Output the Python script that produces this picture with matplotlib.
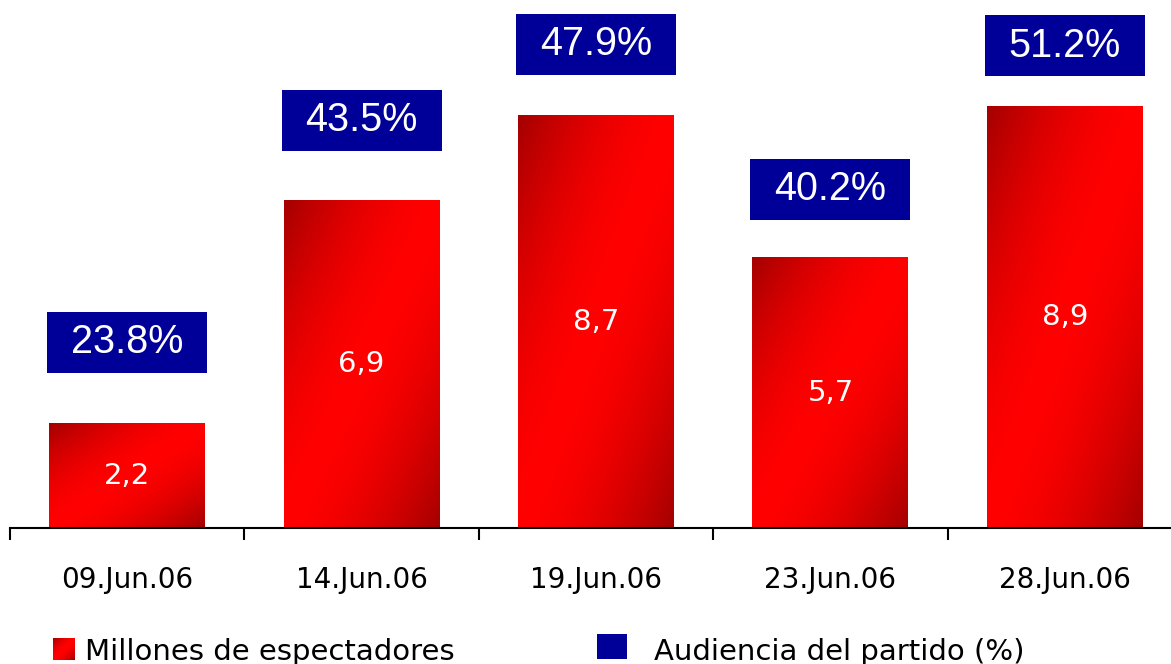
import numpy as np
import matplotlib
matplotlib.use('Agg')
import matplotlib.pyplot as plt
from matplotlib.patches import Rectangle

# ---------------- data ----------------
categories = ['09.Jun.06', '14.Jun.06', '19.Jun.06', '23.Jun.06', '28.Jun.06']
viewers = [2.2, 6.9, 8.7, 5.7, 8.9]          # Millones de espectadores
share = [23.8, 43.5, 47.9, 40.2, 51.2]       # Audiencia del partido (%)
legend_labels = ['Millones de espectadores', 'Audiencia del partido (%)']

# ---------------- layout / style ----------------
W, H, DPI = 1171, 664, 100
box_gap_px = [51, 50, 41, 38, 30]   # gap between bar top and label box
BLUE = '#000099'
BRIGHT = np.array([1.0, 0.0, 0.0])
DARK = np.array([0.64, 0.0, 0.0])


def gradient(n=200):
    xs = np.linspace(0, 1, n)
    X, Y = np.meshgrid(xs, xs)
    d = np.abs(X - Y) ** 1.7
    return BRIGHT[None, None, :] * (1 - d[..., None]) + DARK[None, None, :] * d[..., None]


grad = gradient()

fig = plt.figure(figsize=(W / DPI, H / DPI), dpi=DPI)
ax = fig.add_axes([10 / W, 136 / H, 1172 / W, 528 / H])

x = np.arange(len(categories))
bars = ax.bar(x, viewers, width=0.665, color='none', edgecolor='none')

ymax = 528 / 47.4
px_per_unit = 528 / ymax
px_per_cat = 1172 / len(categories)

for b, v, s, gap in zip(bars, viewers, share, box_gap_px):
    x0, w, h = b.get_x(), b.get_width(), b.get_height()
    ax.imshow(grad, extent=(x0, x0 + w, 0, h), origin='lower', aspect='auto',
              zorder=2, interpolation='bilinear')
    ax.text(x0 + w / 2, h / 2, f'{v:.1f}'.replace('.', ','), color='white',
            ha='center', va='center', fontsize=21, family='DejaVu Sans', zorder=3)
    bw = 160 / px_per_cat
    bh = 61 / px_per_unit
    by = h + gap / px_per_unit
    xc = x0 + w / 2
    ax.add_patch(Rectangle((xc - bw / 2, by), bw, bh, facecolor=BLUE,
                           edgecolor='none', zorder=3, clip_on=False))
    ax.text(xc, by + bh / 2, f'{s:.1f}%', color='white', ha='center', va='center',
            fontsize=28.5, family='Liberation Sans', zorder=4)

ax.set_xlim(-0.5, len(categories) - 0.5)
ax.set_ylim(0, ymax)
ax.set_aspect('auto')

for sp in ['top', 'left', 'right']:
    ax.spines[sp].set_visible(False)
ax.spines['bottom'].set_linewidth(1.5)
ax.spines['bottom'].set_color('black')
ax.set_yticks([])
ax.set_xticks(x)
ax.set_xticklabels(categories, fontsize=20, family='DejaVu Sans')
ax.set_xticks(np.arange(-0.5, len(categories)), minor=True)
ax.tick_params(axis='x', which='major', length=0, pad=27)
ax.tick_params(axis='x', which='minor', length=8.6, width=1.5, direction='out', color='black')

# ---------------- legend ----------------
leg_grad = (gradient(22) * 255).astype(np.uint8)
fig.figimage(leg_grad, xo=53, yo=H - 660, origin='lower', zorder=5)
fig.text(85 / W, (H - 660) / H, legend_labels[0], fontsize=21, family='DejaVu Sans',
         va='baseline', ha='left', color='black')
fig.add_artist(Rectangle((597 / W, (H - 659) / H), 30 / W, 25 / H,
                         transform=fig.transFigure, facecolor=BLUE, edgecolor='none'))
fig.text(654 / W, (H - 660) / H, legend_labels[1], fontsize=21, family='DejaVu Sans',
         va='baseline', ha='left', color='black')

fig.savefig('out.png', dpi=DPI)
